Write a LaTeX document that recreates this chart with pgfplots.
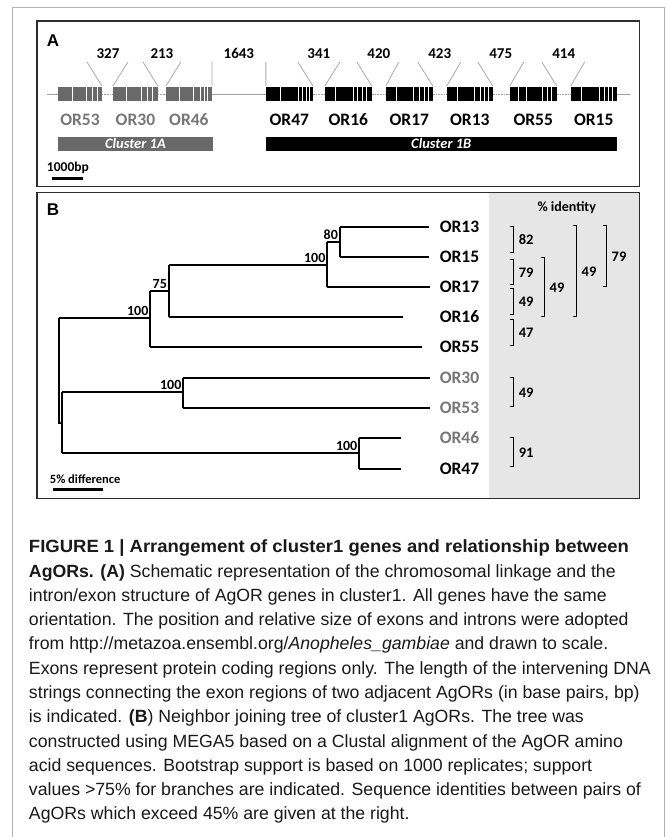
\documentclass[border=0pt]{standalone}
\usepackage{pgfplots}
\pgfplotsset{compat=1.18}
\usepackage{fontspec}
\setmainfont{Liberation Sans}
\newfontfamily\calfont{Carlito}
\definecolor{genegray}{RGB}{105,105,105}
\definecolor{labgray}{RGB}{118,118,118}
\definecolor{shade}{RGB}{230,230,230}
\definecolor{leader}{RGB}{170,170,170}
\definecolor{framec}{RGB}{45,45,45}
\definecolor{captxt}{RGB}{25,25,25}
\newcommand{\cb}[1]{\fontsize{#1}{#1}\selectfont\calfont\bfseries}
\newcommand{\capf}{\fontsize{17.7}{20}\selectfont}
\tikzset{lab/.style={inner sep=0pt,outer sep=0pt}}
\begin{document}
\begin{tikzpicture}
\begin{axis}[width=667pt,height=837pt,scale only axis,
  xmin=0,xmax=667,ymin=0,ymax=837,y dir=reverse,
  hide axis,clip=false,unbounded coords=jump]
% background and outer frame
\addplot[fill=white,draw=none] coordinates {(0,0)(667,0)(667,837)(0,837)} -- cycle;
\addplot[draw=gray!60,line width=0.8pt] coordinates {(12,837)(12,7)(665,7)(665,837)};
% ---------------- Panel A ----------------
\addplot[draw=framec,line width=1.1pt] coordinates {(37,21)(640,21)(640,187)(37,187)} -- cycle;
\node[lab,anchor=west,font=\fontsize{17}{17}\selectfont\bfseries] at (47,41) {A};
% chromosome line
\addplot[draw=gray!75,line width=0.7pt] coordinates {(47,94)(58,94)(nan,nan)(212,94)(266,94)(nan,nan)(617,94)(630,94)};
\addplot[draw=gray!75,line width=0.7pt,dash pattern=on 0.8pt off 0.8pt] coordinates {(102,94)(113,94)(nan,nan)(158,94)(166,94)(nan,nan)(313,94)(325,94)(nan,nan)(372,94)(386,94)(nan,nan)(433,94)(447,94)(nan,nan)(493,94)(510,94)(nan,nan)(557,94)(571,94)};
% genes
\addplot[draw=genegray,line width=14pt] coordinates {(58,94)(102,94)(nan,nan)(113,94)(158,94)(nan,nan)(166,94)(212,94)};
\addplot[draw=black,line width=14pt] coordinates {(266,94)(313,94)(nan,nan)(325,94)(372,94)(nan,nan)(386,94)(433,94)(nan,nan)(447,94)(493,94)(nan,nan)(510,94)(557,94)(nan,nan)(571,94)(617,94)};
% introns (white gaps)
\addplot[only marks,mark=|,mark size=7.6pt,draw=white,mark options={line width=0.9pt}] coordinates {
(72,94)(86,94)(92,94)(97,94)
(127,94)(142,94)(148,94)(153,94)
(180,94)(194,94)(201,94)(205,94)(208,94)
(281,94)(299,94)(303,94)(307,94)(310,94)
(336,94)(354,94)(358,94)(363,94)(367,94)
(397,94)(414,94)(420,94)(425,94)(429,94)
(458,94)(475,94)(481,94)(485,94)(489,94)
(519,94)(527,94)(543,94)(548,94)(552,94)
(582,94)(600,94)(605,94)(609,94)(613,94)};
% leader lines
\addplot[draw=leader,line width=0.8pt] coordinates {
(87,62)(102,86)(nan,nan)(128,62)(113,86)(nan,nan)
(143,62)(158,86)(nan,nan)(181,62)(166,86)(nan,nan)
(212,62)(212,86)(nan,nan)(266,62)(266,86)(nan,nan)
(298,62)(313,86)(nan,nan)(340,62)(325,86)(nan,nan)
(357,62)(372,86)(nan,nan)(399,62)(386,86)(nan,nan)
(418,62)(433,86)(nan,nan)(461,62)(447,86)(nan,nan)
(478,62)(493,86)(nan,nan)(524,62)(510,86)(nan,nan)
(542,62)(557,86)(nan,nan)(585,62)(571,86)};
% gap lengths
\node[lab,font=\cb{15}] at (108,53.5) {327};
\node[lab,font=\cb{15}] at (162,53.5) {213};
\node[lab,font=\cb{15}] at (239,53.5) {1643};
\node[lab,font=\cb{15}] at (319,53.5) {341};
\node[lab,font=\cb{15}] at (379,53.5) {420};
\node[lab,font=\cb{15}] at (440,53.5) {423};
\node[lab,font=\cb{15}] at (501,53.5) {475};
\node[lab,font=\cb{15}] at (564,53.5) {414};
% gene labels
\node[lab,font=\cb{17.5},text=labgray] at (80,120) {OR53};
\node[lab,font=\cb{17.5},text=labgray] at (135.5,120) {OR30};
\node[lab,font=\cb{17.5},text=labgray] at (189,120) {OR46};
\node[lab,font=\cb{17.5}] at (289.5,120) {OR47};
\node[lab,font=\cb{17.5}] at (348.5,120) {OR16};
\node[lab,font=\cb{17.5}] at (409.5,120) {OR17};
\node[lab,font=\cb{17.5}] at (470,120) {OR13};
\node[lab,font=\cb{17.5}] at (533.5,120) {OR55};
\node[lab,font=\cb{17.5}] at (594,120) {OR15};
% cluster bars
\addplot[fill=genegray,draw=none] coordinates {(58,137)(213,137)(213,151)(58,151)} -- cycle;
\addplot[fill=black,draw=none] coordinates {(266,137)(617,137)(617,151)(266,151)} -- cycle;
\node[lab,font=\cb{14.5}\itshape,text=white] at (135.5,144) {Cluster 1A};
\node[lab,font=\cb{14.5}\itshape,text=white] at (441.5,144) {Cluster 1B};
% scale bar
\node[lab,anchor=west,font=\cb{13.5}] at (47,168) {1000bp};
\addplot[draw=black,line width=3pt] coordinates {(52,179)(83,179)};
% ---------------- Panel B ----------------
\addplot[fill=shade,draw=none] coordinates {(489,193)(640,193)(640,499)(489,499)} -- cycle;
\addplot[draw=framec,line width=1.1pt] coordinates {(37,193)(640,193)(640,499)(37,499)} -- cycle;
\node[lab,anchor=west,font=\fontsize{17}{17}\selectfont\bfseries] at (47,210) {B};
% tree branches
\addplot[draw=black,line width=1.8pt] coordinates {
(59,318)(59,423)(62,423)(nan,nan)
(59,318)(150,318)(nan,nan)
(150,291)(150,347)(nan,nan)
(150,347)(422,347)(nan,nan)
(150,291)(169,291)(nan,nan)
(169,265)(169,317)(nan,nan)
(169,317)(403,317)(nan,nan)
(169,265)(327,265)(nan,nan)
(327,242)(327,287)(nan,nan)
(327,287)(430,287)(nan,nan)
(327,242)(340,242)(nan,nan)
(340,227)(340,257)(nan,nan)
(340,227)(429,227)(nan,nan)
(340,257)(429,257)(nan,nan)
(62,392)(62,453)(nan,nan)
(62,392)(183,392)(nan,nan)
(183,378)(183,408)(nan,nan)
(183,378)(430,378)(nan,nan)
(183,408)(430,408)(nan,nan)
(62,453)(359,453)(nan,nan)
(359,438)(359,469)(nan,nan)
(359,438)(401,438)(nan,nan)
(359,469)(401,469)};
% bootstrap values
\node[lab,anchor=south east,font=\cb{14}] at (338,240) {80};
\node[lab,anchor=south east,font=\cb{14}] at (325.5,263) {100};
\node[lab,anchor=south east,font=\cb{14}] at (167,289) {75};
\node[lab,anchor=south east,font=\cb{14}] at (148.5,316) {100};
\node[lab,anchor=south east,font=\cb{14}] at (181.5,390) {100};
\node[lab,anchor=south east,font=\cb{14}] at (357.5,451) {100};
% tip labels
\node[lab,anchor=west,font=\cb{17.5}] at (440,227) {OR13};
\node[lab,anchor=west,font=\cb{17.5}] at (440,257) {OR15};
\node[lab,anchor=west,font=\cb{17.5}] at (440,287) {OR17};
\node[lab,anchor=west,font=\cb{17.5}] at (440,317) {OR16};
\node[lab,anchor=west,font=\cb{17.5}] at (440,347) {OR55};
\node[lab,anchor=west,font=\cb{17.5},text=labgray] at (440,378) {OR30};
\node[lab,anchor=west,font=\cb{17.5},text=labgray] at (440,408) {OR53};
\node[lab,anchor=west,font=\cb{17.5},text=labgray] at (440,438) {OR46};
\node[lab,anchor=west,font=\cb{17.5}] at (440,469) {OR47};
% identity header
\node[lab,font=\cb{14}] at (567,208) {\% identity};
% identity brackets
\addplot[draw=black,line width=1pt] coordinates {
(510,227)(514,227)(514,253)(510,253)(nan,nan)
(510,260)(514,260)(514,285)(510,285)(nan,nan)
(510,289)(514,289)(514,315)(510,315)(nan,nan)
(510,320)(514,320)(514,346)(510,346)(nan,nan)
(510,378)(514,378)(514,407)(510,407)(nan,nan)
(510,438)(514,438)(514,467)(510,467)(nan,nan)
(541,258)(545,258)(545,317)(541,317)(nan,nan)
(573,226)(577,226)(577,317)(573,317)(nan,nan)
(603,226)(607,226)(607,287)(603,287)};
\node[lab,anchor=west,font=\cb{14.5}] at (519,240) {82};
\node[lab,anchor=west,font=\cb{14.5}] at (519,272.5) {79};
\node[lab,anchor=west,font=\cb{14.5}] at (519,302) {49};
\node[lab,anchor=west,font=\cb{14.5}] at (519,333) {47};
\node[lab,anchor=west,font=\cb{14.5}] at (519,392.5) {49};
\node[lab,anchor=west,font=\cb{14.5}] at (519,452.5) {91};
\node[lab,anchor=west,font=\cb{14.5}] at (550,287.5) {49};
\node[lab,anchor=west,font=\cb{14.5}] at (582,271.5) {49};
\node[lab,anchor=west,font=\cb{14.5}] at (612,256.5) {79};
% scale bar
\node[lab,anchor=west,font=\cb{12.5}] at (50,479) {5\% difference};
\addplot[draw=black,line width=3pt] coordinates {(53,490)(103,490)};
% ---------------- Caption ----------------
\node[lab,anchor=base west,font=\capf,text=captxt] at (29,553) {\scalebox{1.045}[1]{\textbf{FIGURE 1 | Arrangement of cluster1 genes and relationship between}}};
\node[lab,anchor=base west,font=\capf,text=captxt] at (29,577.3) {\textbf{AgORs. (A)} Schematic representation of the chromosomal linkage and the};
\node[lab,anchor=base west,font=\capf,text=captxt] at (29,601.6) {intron/exon structure of AgOR genes in cluster1. All genes have the same};
\node[lab,anchor=base west,font=\capf,text=captxt] at (29,625.9) {orientation. The position and relative size of exons and introns were adopted};
\node[lab,anchor=base west,font=\capf,text=captxt] at (29,650.2) {from http://metazoa.ensembl.org/\textit{Anopheles\_gambiae} and drawn to scale.};
\node[lab,anchor=base west,font=\capf,text=captxt] at (29,674.5) {Exons represent protein coding regions only. The length of the intervening DNA};
\node[lab,anchor=base west,font=\capf,text=captxt] at (29,698.8) {strings connecting the exon regions of two adjacent AgORs (in base pairs, bp)};
\node[lab,anchor=base west,font=\capf,text=captxt] at (29,723.1) {is indicated. \textbf{(B}) Neighbor joining tree of cluster1 AgORs. The tree was};
\node[lab,anchor=base west,font=\capf,text=captxt] at (29,747.4) {constructed using MEGA5 based on a Clustal alignment of the AgOR amino};
\node[lab,anchor=base west,font=\capf,text=captxt] at (29,771.7) {acid sequences. Bootstrap support is based on 1000 replicates; support};
\node[lab,anchor=base west,font=\capf,text=captxt] at (29,796) {values >75\% for branches are indicated. Sequence identities between pairs of};
\node[lab,anchor=base west,font=\capf,text=captxt] at (29,820.3) {AgORs which exceed 45\% are given at the right.};
\end{axis}
\end{tikzpicture}
\end{document}
